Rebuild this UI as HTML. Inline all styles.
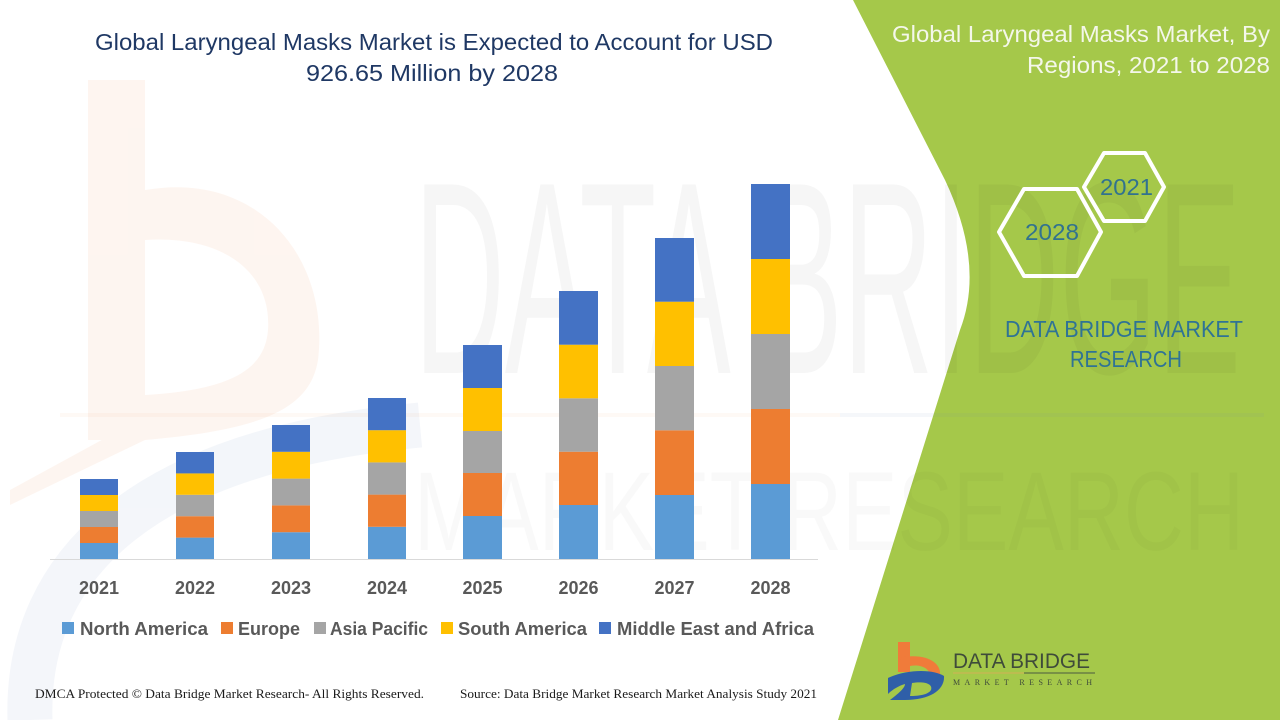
<!DOCTYPE html>
<html>
<head>
<meta charset="utf-8">
<style>
  html,body{margin:0;padding:0;background:#fff;}
  body{width:1280px;height:720px;overflow:hidden;}
  svg{display:block;}
</style>
</head>
<body>
<svg width="1280" height="720" viewBox="0 0 1280 720" xmlns="http://www.w3.org/2000/svg">
  <rect x="0" y="0" width="1280" height="720" fill="#ffffff"/>

  <!-- faint watermark logo (left) -->
  <g opacity="0.45">
    <rect x="88" y="80" width="57" height="360" fill="#fce9de"/>
    <path d="M145,190 C260,170 330,260 318,360 C310,410 260,430 145,440 L145,395 C230,390 265,370 268,330 C272,270 220,235 145,240 Z" fill="#fce9de"/>
    <path d="M145,440 L10,505 L10,490 L120,430 Z" fill="#fce9de"/>
    <path d="M30,720 C25,560 150,450 420,425" fill="none" stroke="#e6ecf4" stroke-width="45"/>
  </g>

  <!-- green panel -->
  <path d="M853,0 L945,180 Q985,265 960,330 L838,720 L1280,720 L1280,0 Z" fill="#a5c84a"/>

  <!-- big watermark text -->
  <text x="414" y="373" font-family="Liberation Sans, sans-serif" font-size="274" fill="#000" fill-opacity="0.035" textLength="827" lengthAdjust="spacingAndGlyphs">DATA BRIDGE</text>
  <rect x="60" y="413" width="780" height="4" fill="#f3a46e" opacity="0.07"/>
  <rect x="840" y="413" width="424" height="4" fill="#6d8fb8" opacity="0.07"/>
  <text x="414" y="550" font-family="Liberation Sans, sans-serif" font-size="112" fill="#000" fill-opacity="0.025" textLength="830" lengthAdjust="spacingAndGlyphs">MARKET RESEARCH</text>

  <!-- title -->
  <text x="95" y="50" font-family="Liberation Sans, sans-serif" font-size="23" fill="#1f3864" textLength="678" lengthAdjust="spacingAndGlyphs">Global Laryngeal Masks Market is Expected to Account for USD</text>
  <text x="306" y="81" font-family="Liberation Sans, sans-serif" font-size="23" fill="#1f3864" textLength="252" lengthAdjust="spacingAndGlyphs">926.65 Million by 2028</text>

  <!-- axis line -->
  <line x1="50" y1="559.5" x2="818" y2="559.5" stroke="#d9d9d9" stroke-width="1"/>

  <!-- bars: NA, EU, AP, SA, MEA -->
  <g>
    <!-- 2021 -->
    <rect x="80" y="543" width="38" height="16" fill="#5b9bd5"/>
    <rect x="80" y="527" width="38" height="16" fill="#ed7d31"/>
    <rect x="80" y="511" width="38" height="16" fill="#a5a5a5"/>
    <rect x="80" y="495" width="38" height="16" fill="#ffc000"/>
    <rect x="80" y="479" width="38" height="16" fill="#4472c4"/>
    <!-- 2022 -->
    <rect x="176" y="537.6" width="38" height="21.4" fill="#5b9bd5"/>
    <rect x="176" y="516.2" width="38" height="21.4" fill="#ed7d31"/>
    <rect x="176" y="494.8" width="38" height="21.4" fill="#a5a5a5"/>
    <rect x="176" y="473.4" width="38" height="21.4" fill="#ffc000"/>
    <rect x="176" y="452" width="38" height="21.4" fill="#4472c4"/>
    <!-- 2023 -->
    <rect x="272" y="532.2" width="38" height="26.8" fill="#5b9bd5"/>
    <rect x="272" y="505.4" width="38" height="26.8" fill="#ed7d31"/>
    <rect x="272" y="478.6" width="38" height="26.8" fill="#a5a5a5"/>
    <rect x="272" y="451.8" width="38" height="26.8" fill="#ffc000"/>
    <rect x="272" y="425" width="38" height="26.8" fill="#4472c4"/>
    <!-- 2024 -->
    <rect x="368" y="526.8" width="38" height="32.2" fill="#5b9bd5"/>
    <rect x="368" y="494.6" width="38" height="32.2" fill="#ed7d31"/>
    <rect x="368" y="462.4" width="38" height="32.2" fill="#a5a5a5"/>
    <rect x="368" y="430.2" width="38" height="32.2" fill="#ffc000"/>
    <rect x="368" y="398" width="38" height="32.2" fill="#4472c4"/>
    <!-- 2025 -->
    <rect x="463" y="516" width="39" height="43" fill="#5b9bd5"/>
    <rect x="463" y="473" width="39" height="43" fill="#ed7d31"/>
    <rect x="463" y="431" width="39" height="42" fill="#a5a5a5"/>
    <rect x="463" y="388" width="39" height="43" fill="#ffc000"/>
    <rect x="463" y="345" width="39" height="43" fill="#4472c4"/>
    <!-- 2026 -->
    <rect x="559" y="505" width="39" height="54" fill="#5b9bd5"/>
    <rect x="559" y="451.7" width="39" height="53.3" fill="#ed7d31"/>
    <rect x="559" y="398.3" width="39" height="53.4" fill="#a5a5a5"/>
    <rect x="559" y="344.7" width="39" height="53.6" fill="#ffc000"/>
    <rect x="559" y="291" width="39" height="53.7" fill="#4472c4"/>
    <!-- 2027 -->
    <rect x="655" y="495" width="39" height="64" fill="#5b9bd5"/>
    <rect x="655" y="430.3" width="39" height="64.7" fill="#ed7d31"/>
    <rect x="655" y="366" width="39" height="64.3" fill="#a5a5a5"/>
    <rect x="655" y="301.7" width="39" height="64.3" fill="#ffc000"/>
    <rect x="655" y="238" width="39" height="63.7" fill="#4472c4"/>
    <!-- 2028 -->
    <rect x="751" y="484" width="39" height="75" fill="#5b9bd5"/>
    <rect x="751" y="409" width="39" height="75" fill="#ed7d31"/>
    <rect x="751" y="334" width="39" height="75" fill="#a5a5a5"/>
    <rect x="751" y="259" width="39" height="75" fill="#ffc000"/>
    <rect x="751" y="184" width="39" height="75" fill="#4472c4"/>
  </g>

  <!-- category labels -->
  <g font-family="Liberation Sans, sans-serif" font-weight="bold" font-size="18" fill="#595959" text-anchor="middle">
    <text x="99" y="594">2021</text>
    <text x="195" y="594">2022</text>
    <text x="291" y="594">2023</text>
    <text x="387" y="594">2024</text>
    <text x="482.5" y="594">2025</text>
    <text x="578.5" y="594">2026</text>
    <text x="674.5" y="594">2027</text>
    <text x="770.5" y="594">2028</text>
  </g>

  <!-- legend -->
  <g font-family="Liberation Sans, sans-serif" font-weight="bold" font-size="18" fill="#595959">
    <rect x="62" y="622" width="12" height="12" fill="#5b9bd5"/>
    <text x="80" y="635" textLength="128" lengthAdjust="spacingAndGlyphs">North America</text>
    <rect x="221" y="622" width="12" height="12" fill="#ed7d31"/>
    <text x="238" y="635" textLength="62" lengthAdjust="spacingAndGlyphs">Europe</text>
    <rect x="314" y="622" width="12" height="12" fill="#a5a5a5"/>
    <text x="330" y="635" textLength="98" lengthAdjust="spacingAndGlyphs">Asia Pacific</text>
    <rect x="441" y="622" width="12" height="12" fill="#ffc000"/>
    <text x="458" y="635" textLength="129" lengthAdjust="spacingAndGlyphs">South America</text>
    <rect x="599" y="622" width="12" height="12" fill="#4472c4"/>
    <text x="617" y="635" textLength="197" lengthAdjust="spacingAndGlyphs">Middle East and Africa</text>
  </g>

  <!-- footer -->
  <text x="35" y="698" font-family="Liberation Serif, serif" font-size="13" fill="#1a1a1a" textLength="389" lengthAdjust="spacingAndGlyphs">DMCA Protected © Data Bridge Market Research- All Rights Reserved.</text>
  <text x="460" y="698" font-family="Liberation Serif, serif" font-size="13" fill="#1a1a1a" textLength="357" lengthAdjust="spacingAndGlyphs">Source: Data Bridge Market Research Market Analysis Study 2021</text>

  <!-- right panel title -->
  <text x="892" y="42" font-family="Liberation Sans, sans-serif" font-size="23" fill="#f4f7ea" textLength="378" lengthAdjust="spacingAndGlyphs">Global Laryngeal Masks Market, By</text>
  <text x="1027" y="73" font-family="Liberation Sans, sans-serif" font-size="23" fill="#f4f7ea" textLength="243" lengthAdjust="spacingAndGlyphs">Regions, 2021 to 2028</text>

  <!-- hexagons -->
  <polygon points="999,232 1024,189 1077,189 1101,232 1077,276 1024,276" fill="none" stroke="#ffffff" stroke-width="4" stroke-linejoin="round"/>
  <polygon points="1084,187 1104,153 1145,153 1164,187 1145,221 1104,221" fill="none" stroke="#ffffff" stroke-width="4" stroke-linejoin="round"/>
  <text x="1025" y="240" font-family="Liberation Sans, sans-serif" font-size="23" fill="#31728f" textLength="54" lengthAdjust="spacingAndGlyphs">2028</text>
  <text x="1100" y="195" font-family="Liberation Sans, sans-serif" font-size="23" fill="#31728f" textLength="53" lengthAdjust="spacingAndGlyphs">2021</text>

  <text x="1005" y="337" font-family="Liberation Sans, sans-serif" font-size="23" fill="#2f7395" textLength="238" lengthAdjust="spacingAndGlyphs">DATA BRIDGE MARKET</text>
  <text x="1070" y="367" font-family="Liberation Sans, sans-serif" font-size="23" fill="#2f7395" textLength="112" lengthAdjust="spacingAndGlyphs">RESEARCH</text>

  <!-- bottom logo -->
  <g>
    <rect x="898" y="642" width="12" height="30" fill="#f07b3a"/>
    <path d="M898,658 C925,652 942,662 940,676 L930,676 C930,668 920,664 910,666 Z" fill="#f07b3a"/>
    <path d="M888,678 C910,668 935,670 944,676 C945,690 930,700 905,700 L890,700 C898,694 905,688 905,684 C898,686 892,690 888,694 Z" fill="#2f5fa8"/>
    <path d="M912,683 C925,681 933,684 931,690 C928,695 918,696 910,696 Z" fill="#a5c84a"/>
  </g>
  <text x="953" y="668" font-family="Liberation Sans, sans-serif" font-size="21" fill="#3f4b3a" textLength="137" lengthAdjust="spacingAndGlyphs">DATA BRIDGE</text>
  <line x1="1024" y1="673" x2="1095" y2="673" stroke="#4a5a40" stroke-width="1"/>
  <line x1="953" y1="673" x2="1024" y2="673" stroke="#f0a060" stroke-width="1" opacity="0.6"/>
  <text x="953" y="685" font-family="Liberation Serif, serif" font-size="8" fill="#3f4b3a" textLength="139" lengthAdjust="spacing">MARKET  RESEARCH</text>
</svg>
</body>
</html>
